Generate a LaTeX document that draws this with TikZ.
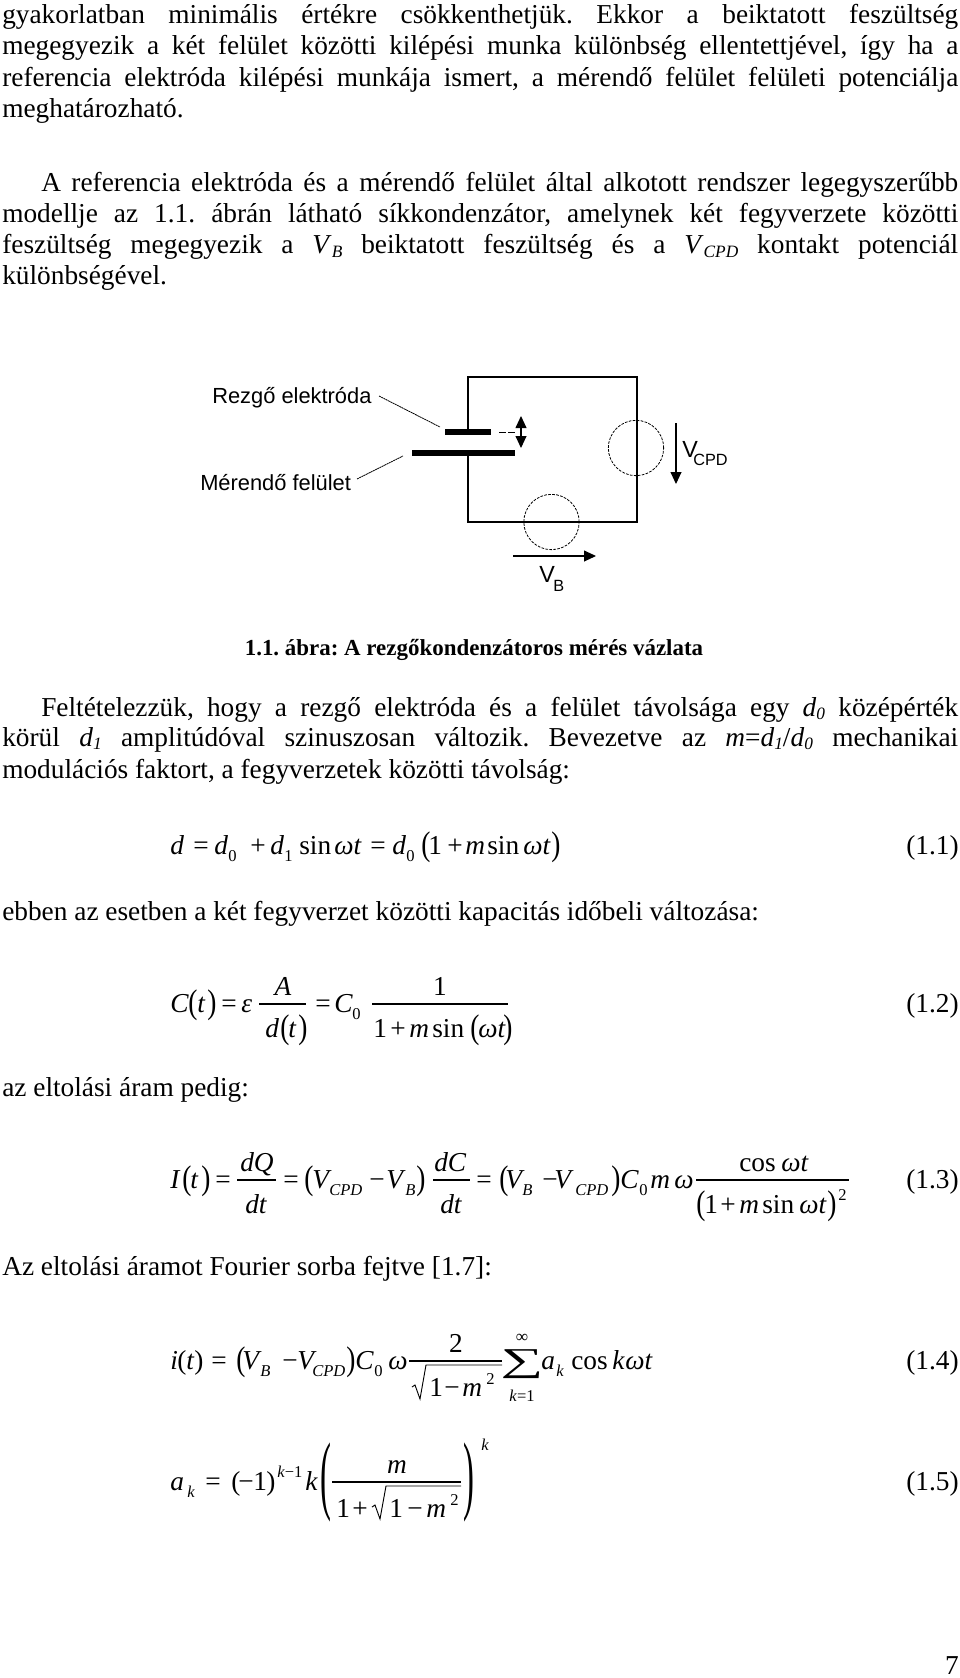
\documentclass[tikz,border=0pt]{standalone}
\usepackage{fontspec}
\usepackage{graphicx}
\setmainfont{Liberation Serif}
\newfontfamily\arialfont{Liberation Sans}
\usetikzlibrary{arrows.meta}
\newdimen\pxu
\pxu=0.75pt
\frenchspacing
\newcommand{\mi}[1]{\textit{#1}}
\newcommand{\sbs}[1]{\raisebox{-0.3ex}{\fontsize{13}{13}\selectfont\textit{#1}}}
\newcommand{\lp}{\raisebox{-1.2pt}{\scalebox{1}[1.25]{(}}}
\newcommand{\rp}{\raisebox{-1.2pt}{\scalebox{1}[1.25]{)}}}
\tikzset{
  txtline/.style={anchor=base west,inner sep=0pt},
  eqnum/.style={anchor=base east,inner sep=0pt},
  eqn/.style={anchor=base west,inner sep=0pt},
  eqc/.style={anchor=base,inner sep=0pt},
  sb/.style={anchor=base west,inner sep=0pt,font=\fontsize{12.4}{13}\selectfont},
  fbar/.style={line width=0.8pt},
  rad/.style={line width=0.7pt,line join=miter},
  plate/.style={draw=none,fill=black,inner sep=0pt,minimum height=4.1pt},
  source/.style={circle,draw,dash pattern=on 2pt off 1pt,line width=0.6pt,minimum size=41.5pt,inner sep=0pt},
  wire/.style={line width=0.9pt},
  leader/.style={line width=0.6pt,dash pattern=on 1.5pt off 0.4pt},
  lab/.style={inner sep=0pt,anchor=base west,font=\arialfont\fontsize{16.4}{18}\selectfont},
  bigv/.style={inner sep=0pt,anchor=base west,font=\arialfont\fontsize{17.5}{19}\selectfont},
  smallv/.style={inner sep=0pt,anchor=base west,font=\arialfont\fontsize{12.2}{14}\selectfont},
  tip/.style={-{Triangle[length=9pt,width=8.2pt]},line width=0.8pt}
}
\begin{document}
\begin{tikzpicture}[x=0.75pt,y=-0.75pt,font=\fontsize{20.5}{24}\selectfont]
\useasboundingbox (0,0) rectangle (960,1678);
\fill[white] (0,0) rectangle (960,1678);
% justified lines
\foreach \i/\ypos/\txt in {
 a/23/{gyakorlatban minimális értékre csökkenthetjük. Ekkor a beiktatott feszültség},
 b/54.5/{megegyezik a két felület közötti kilépési munka különbség ellentettjével, így ha a},
 c/86/{referencia elektróda kilépési munkája ismert, a mérendő felület felületi potenciálja},
 d/222.5/{modellje az 1.1. ábrán látható síkkondenzátor, amelynek két fegyverzete közötti},
 e/253.5/{feszültség megegyezik a \mi{V}\sbs{B} beiktatott feszültség és a \mi{V}\sbs{CPD} kontakt potenciál},
 f/746/{körül \mi{d}\sbs{1} amplitúdóval szinuszosan változik. Bevezetve az \mi{m}=\mi{d}\sbs{1}/\mi{d}\sbs{0} mechanikai}}
  \node[txtline] (line\i) at (2,\ypos) {\makebox[956\pxu][s]{\txt}};
\node[txtline] (lineg) at (41,191) {\makebox[917\pxu][s]{A referencia elektróda és a mérendő felület által alkotott rendszer legegyszerűbb}};
\node[txtline] (lineh) at (41,716) {\makebox[917\pxu][s]{Feltételezzük, hogy a rezgő elektróda és a felület távolsága egy \mi{d}\sbs{0} középérték}};
% short lines
\node[txtline] (linei) at (2,117.5) {meghatározható.};
\node[txtline] (linej) at (2,284) {különbségével.};
\node[txtline] (linek) at (2,778) {modulációs faktort, a fegyverzetek közötti távolság:};
\node[txtline] (linel) at (2,920) {ebben az esetben a két fegyverzet közötti kapacitás időbeli változása:};
\node[txtline] (linem) at (2,1096) {az eltolási áram pedig:};
\node[txtline] (linen) at (2,1275) {Az eltolási áramot Fourier sorba fejtve [1.7]:};
\node[anchor=base,inner sep=0pt,font=\fontsize{17.2}{20}\bfseries\selectfont] (caption) at (474,655) {1.1. ábra: A rezgőkondenzátoros mérés vázlata};
% equation 1.1
\foreach \xpos/\txt in {170/\mi{d},193/=,214/\mi{d},250/+,270/\mi{d},299/sin,334/\mi{ωt},370/=,392/\mi{d},421/\lp,428/1,447/+,465/\mi{m},487/sin,523/\mi{ωt},551/\rp}
  \node[eqn] (ea\xpos) at (\xpos,854) {\txt};
\foreach \xpos/\txt in {228/0,284/1,406/0}
  \node[sb] (sa\xpos) at (\xpos,861) {\txt};
% equation 1.2
\foreach \xpos/\txt in {170/\mi{C},188/\lp,197/\mi{t},207/\rp,221/=,241/\mi{ε},315/=,334/\mi{C}}
  \node[eqn] (eb\xpos) at (\xpos,1012) {\txt};
\node[sb] (sb0) at (352,1019) {0};
\node[eqc] (ebA) at (283,995) {\mi{A}};
\node[eqc] (eb1) at (440,995) {1};
\foreach \xpos/\txt in {265/\mi{d},280/\lp,288/\mi{t},298/\rp,373/1,390/+,409/\mi{m},432/sin,470/\lp,478/\mi{ωt},503/\rp}
  \node[eqn] (ed\xpos) at (\xpos,1037) {\txt};
\draw[fbar] (259,1004) -- (306,1004);
\draw[fbar] (372,1004) -- (508,1004);
% equation 1.3
\foreach \xpos/\txt in {170/\mi{I},182/\lp,190/\mi{t},201/\rp,215/=,283/=,304/\lp,312/\mi{V},369/−,386/\mi{V},416/\rp,476/=,499/\lp,505/\mi{V},542/−,554/\mi{V},611/\rp,620/\mi{C},650/\mi{m},674/\mi{ω}}
  \node[eqn] (ec\xpos) at (\xpos,1188) {\txt};
\foreach \xpos/\txt in {329/\mi{CPD},405/\mi{B},522/\mi{B},575/\mi{CPD},639/0}
  \node[sb] (sc\xpos) at (\xpos,1195) {\txt};
\foreach \xpos/\txt in {240/\mi{dQ},434/\mi{dC},739/cos,781/\mi{ωt}}
  \node[eqn] (en\xpos) at (\xpos,1171) {\txt};
\foreach \xpos/\txt in {245/\mi{dt},440/\mi{dt},696/\lp,704/1,720/+,739/\mi{m},762/sin,799/\mi{ωt},827/\rp}
  \node[eqn] (ef\xpos) at (\xpos,1213) {\txt};
\node[sb] (sc2) at (838,1200) {2};
\draw[fbar] (237,1180) -- (276,1180);
\draw[fbar] (433,1180) -- (470,1180);
\draw[fbar] (696,1180) -- (849,1180);
% equation 1.4
\foreach \xpos/\txt in {170/\mi{i},177/(,186/\mi{t},194/),211/=,236/\lp,242/\mi{V},282/−,297/\mi{V},346/\rp,355/\mi{C},388/\mi{ω},541/\mi{a},571/cos,612/\mi{k},625/\mi{ωt}}
  \node[eqn] (eg\xpos) at (\xpos,1369) {\txt};
\foreach \xpos/\txt in {260/\mi{B},312/\mi{CPD},374/0,556/\mi{k}}
  \node[sb] (sg\xpos) at (\xpos,1376) {\txt};
\node[eqc] (eg2) at (456,1352) {2};
\foreach \xpos/\txt in {429/1,444/−,462/\mi{m}}
  \node[eqn] (eh\xpos) at (\xpos,1396) {\txt};
\node[sb] (sg2) at (486,1384) {2};
\node[eqc,font=\fontsize{25}{25}\selectfont] (sum) at (522,1371) {\scalebox{1.8}[1]{∑}};
\node[eqc,font=\fontsize{13}{13}\selectfont] (suminf) at (522,1342) {∞};
\node[eqc,font=\fontsize{12.4}{13}\selectfont] (sumk) at (522,1401) {\mi{k}=1};
\draw[fbar] (409,1361) -- (502,1361);
\draw[rad] (412,1387) -- (415,1385) -- (420,1399) -- (426,1365) -- (502,1365);
% equation 1.5
\foreach \xpos/\txt in {170/\mi{a},205/=,231/(,238/−,253/1,266/),305/\mi{k}}
  \node[eqn] (ei\xpos) at (\xpos,1490) {\txt};
\node[sb] (si0) at (187,1497) {\mi{k}};
\node[sb] (si1) at (277,1477) {\mi{k}−1};
\node[sb] (si2) at (481,1450) {\mi{k}};
\node[eqc] (eim) at (397,1473) {\mi{m}};
\foreach \xpos/\txt in {336/1,352/+,389/1,407/−,426/\mi{m}}
  \node[eqn] (ej\xpos) at (\xpos,1517) {\txt};
\node[sb] (si3) at (450,1505) {2};
\node[inner sep=0pt] (lbig) at (326,1482) {\scalebox{1.2}[3.2]{(}};
\node[inner sep=0pt] (rbig) at (469,1482) {\scalebox{1.2}[3.2]{)}};
\draw[fbar] (332,1482) -- (461,1482);
\draw[rad] (372,1507) -- (375,1505) -- (380,1519) -- (386,1486) -- (461,1486);
% equation numbers
\foreach \i/\ypos in {1/854,2/1012,3/1188,4/1369,5/1490}
  \node[eqnum] (num\i) at (959,\ypos) {(1.\i)};
\node[eqnum] (page) at (959,1674) {7};
% circuit
\node[plate,minimum width=34.5pt] (top) at (468,432) {};
\node[plate,minimum width=77pt] (bottom) at (463.5,453) {};
\node[source] (scpd) at (636,448) {};
\node[source] (sb) at (551.5,522) {};
\coordinate (wirein) at (468,453);
\draw[wire] (top.center) -- (468,377) -- (637,377) -- (637,522) -- (468,522) -- (wirein);
\node[lab] (rezgo) at (212,403) {Rezgő elektróda};
\node[lab] (merendo) at (200,490) {Mérendő felület};
\coordinate (ra) at (379,396);
\coordinate (rb) at (440,427);
\coordinate (ma) at (357,479);
\coordinate (mb) at (403,456);
\draw[leader] (ra) -- (rb);
\draw[leader] (ma) -- (mb);
\draw[line width=0.7pt,dash pattern=on 5pt off 2pt] (499,432) -- (517,432);
\draw[{Triangle[length=9pt,width=8.2pt]}-{Triangle[length=9pt,width=8.2pt]},line width=0.8pt] (521,416) -- (521,448);
\draw[tip] (676,423) -- (676,484);
\draw[tip] (513,556) -- (596,556);
\node[bigv] (vcpd) at (682,457) {V};
\node[smallv] (cpd) at (693,465) {CPD};
\node[bigv] (vb) at (539,582) {V};
\node[smallv] (b) at (553,591) {B};
\end{tikzpicture}
\end{document}
